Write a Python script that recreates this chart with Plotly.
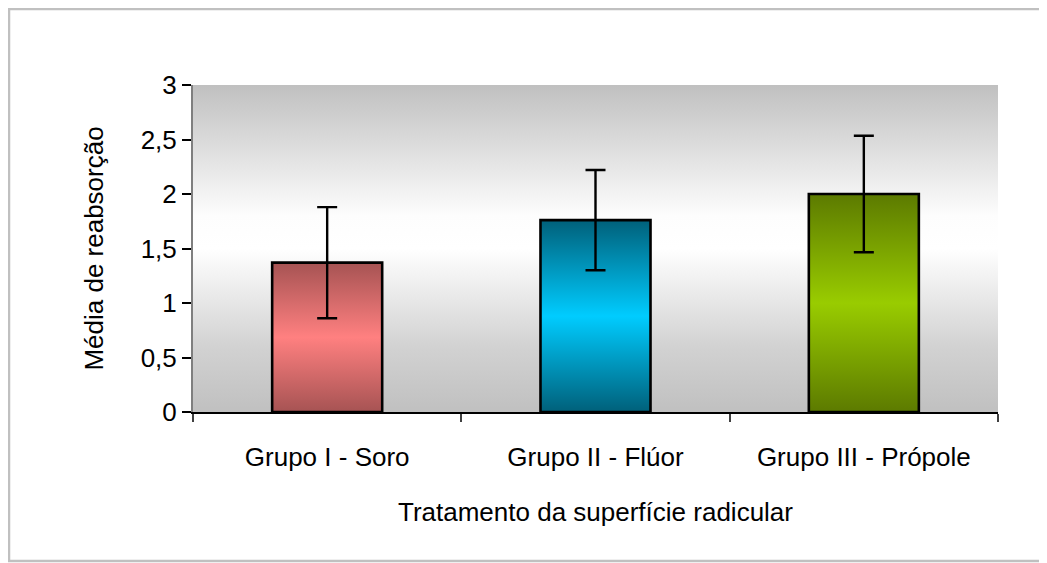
import plotly.graph_objects as go

categories = ["Grupo I - Soro", "Grupo II - Flúor", "Grupo III - Própole"]
means = [1.37, 1.76, 2.00]
errors = [0.51, 0.46, 0.535]
light_colors = ["#FF8080", "#00CCFF", "#99CC00"]
dark_colors = ["#A65353", "#00607A", "#5C7A00"]
y_ticks = [0, 0.5, 1, 1.5, 2, 2.5, 3]

BAR_W = 0.41
FONT = "Liberation Sans, Arial, sans-serif"
FS = 26
xpos = list(range(len(categories)))

# page body has an 8px margin: figure origin sits at (8, 8) on the page
W, H = 1039, 555
L, R, T, B = 185, 49, 77, 151
PW, PH = W - L - R, H - T - B

fig = go.Figure()

# plot-area gradient background (gray - white - gray)
fig.add_trace(go.Scatter(
    x=[-0.5, 2.5, 2.5, -0.5, -0.5], y=[0, 0, 3, 3, 0],
    mode="lines", fill="toself", line=dict(width=0),
    fillgradient=dict(type="vertical", start=0, stop=3,
                      colorscale=[[0, "#c0c0c0"], [0.2, "#d2d2d2"], [0.5, "#ffffff"],
                                  [0.6, "#fdfdfd"], [1, "#c0c0c0"]]),
    hoverinfo="skip", showlegend=False))

# bars with vertical gradient
for xi, m, lc, dc in zip(xpos, means, light_colors, dark_colors):
    x0, x1 = xi - BAR_W / 2, xi + BAR_W / 2
    fig.add_trace(go.Scatter(
        x=[x0, x1, x1, x0, x0], y=[0, 0, m, m, 0],
        mode="lines", fill="toself",
        line=dict(color="black", width=2.6),
        fillgradient=dict(type="vertical", start=0, stop=m,
                          colorscale=[[0, dc], [0.5, lc], [1, dc]]),
        hoverinfo="skip", showlegend=False))

# error bars
fig.add_trace(go.Scatter(
    x=xpos, y=means, mode="markers",
    marker=dict(size=1, color="rgba(0,0,0,0)"),
    error_y=dict(type="data", array=errors, color="black", thickness=2.4, width=10),
    hoverinfo="skip", showlegend=False))

fig.update_layout(
    width=W, height=H,
    margin=dict(l=L, r=R, t=T, b=B),
    paper_bgcolor="white", plot_bgcolor="white",
    separators=",.",
    font=dict(family=FONT, size=FS, color="black"),
    xaxis=dict(
        range=[-0.5, 2.5], tickmode="array", tickvals=xpos, ticktext=categories,
        ticks="", showgrid=False, zeroline=False,
        showline=True, linecolor="black", linewidth=1.5,
        ticklabelstandoff=21,
        tickfont=dict(size=FS),
        minor=dict(tickmode="linear", tick0=-0.5, dtick=1, ticks="outside",
                   ticklen=8, tickcolor="#404040", tickwidth=2, showgrid=False),
        title=dict(text="Tratamento da superfície radicular", font=dict(size=FS), standoff=32),
    ),
    yaxis=dict(
        range=[0, 3], tickmode="array", tickvals=y_ticks,
        ticks="outside", ticklen=9, tickcolor="black", tickwidth=1.5,
        showgrid=False, zeroline=False,
        showline=True, linecolor="#7f7f7f", linewidth=2,
        tickfont=dict(size=FS),
        title=dict(text="Média de reabsorção", font=dict(size=FS), standoff=30),
    ),
    shapes=[dict(type="rect", xref="paper", yref="paper",
                 x0=(1 - L) / PW, x1=1.2,
                 y0=(T + PH - 553) / PH, y1=(T + PH - 1) / PH,
                 line=dict(color="#c0c0c0", width=2.5), fillcolor="rgba(0,0,0,0)", layer="below")],
)

fig.write_html("out.html")
